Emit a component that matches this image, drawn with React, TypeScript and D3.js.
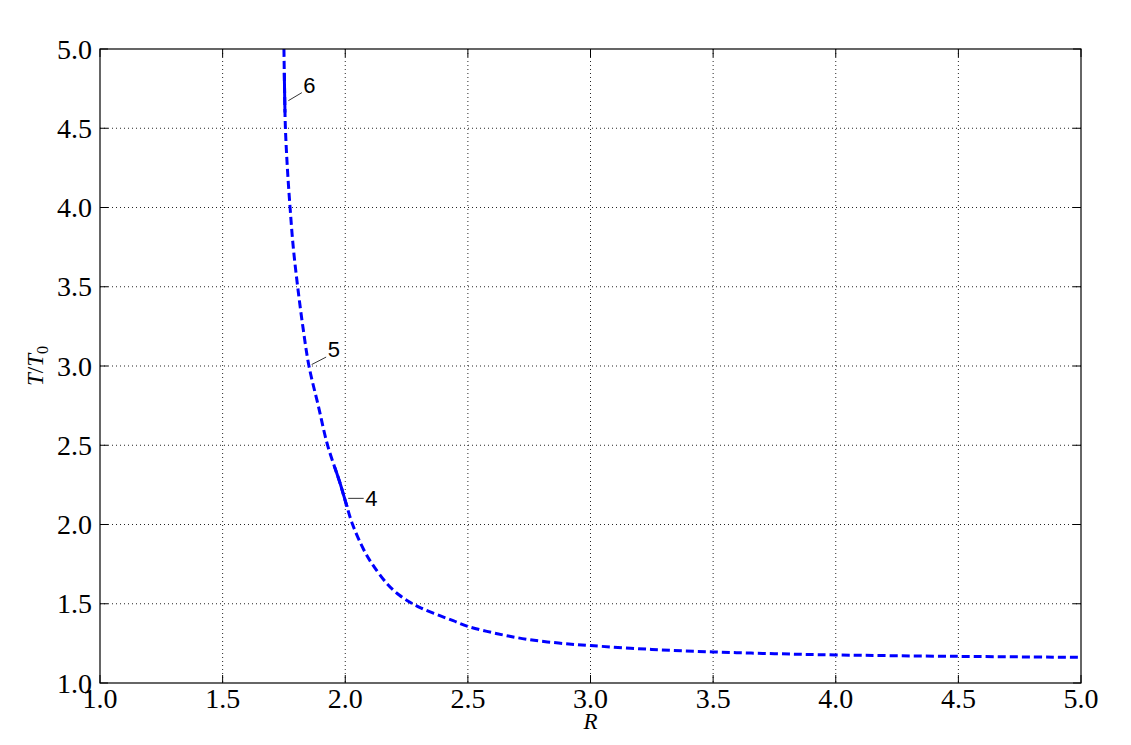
import React from "react";
import * as d3 from "d3";

// Curve R (x) vs T/T0 (y)
const curveR = [1.750, 1.7525, 1.756, 1.764, 1.775, 1.788, 1.806, 1.827, 1.852, 1.890, 1.928, 1.979, 2.003, 2.030, 2.076, 2.108, 2.169, 2.220, 2.264, 2.310, 2.373, 2.440, 2.500, 2.620, 2.740, 2.870, 3.000, 3.250, 3.500, 3.750, 4.000, 4.500, 5.000];
const curveT = [5.000, 4.750, 4.500, 4.250, 4.000, 3.750, 3.500, 3.250, 3.000, 2.750, 2.500, 2.260, 2.134, 2.000, 1.839, 1.755, 1.629, 1.555, 1.510, 1.472, 1.432, 1.393, 1.357, 1.311, 1.276, 1.252, 1.236, 1.212, 1.196, 1.185, 1.177, 1.168, 1.162];

// y-ranges where the curve is drawn solid
const solidLow = [4.60, 2.112];
const solidHigh = [4.85, 2.365];

// Annotations: text, anchor point on the curve (data)
const labelText = ["6", "5", "4"];
const labelR = [1.768, 1.863, 2.012];
const labelT = [4.674, 3.009, 2.165];
const labelDx = [13.5, 14.5, 15.5];
const labelDy = [-8, -7.5, 0];

const xTicks = [1.0, 1.5, 2.0, 2.5, 3.0, 3.5, 4.0, 4.5, 5.0];
const yTicks = [1.0, 1.5, 2.0, 2.5, 3.0, 3.5, 4.0, 4.5, 5.0];

const W = 1131, H = 745;
const L = 100, R = 1081, T = 49, B = 683;

export default function App() {
  const x = d3.scaleLinear().domain([1, 5]).range([L, R]);
  const y = d3.scaleLinear().domain([1, 5]).range([B, T]);
  const pts: [number, number][] = curveR.map((r, i) => [r, curveT[i]]);
  const line = d3
    .line<[number, number]>()
    .x((d) => x(d[0]))
    .y((d) => y(d[1]))
    .curve(d3.curveCatmullRom.alpha(0.5));
  const path = line(pts) || "";
  const serif = "'Liberation Serif', 'DejaVu Serif', serif";
  const tickLen = 8;
  return (
    <svg width={W} height={H} style={{ position: "absolute", left: 0, top: 0, background: "#fff" }}>
      <defs>
        <clipPath id="plotclip">
          <rect x={L} y={T} width={R - L} height={B - T} />
        </clipPath>
        {solidLow.map((lo, i) => (
          <clipPath id={`solid${i}`} key={i}>
            <rect x={L} y={y(solidHigh[i])} width={R - L} height={y(lo) - y(solidHigh[i])} />
          </clipPath>
        ))}
      </defs>
      <rect x={0} y={0} width={W} height={H} fill="#fff" />
      {/* grid */}
      <g stroke="#000" strokeWidth={1} strokeDasharray="1,3" opacity={0.85}>
        {xTicks.slice(1, -1).map((t) => (
          <line key={"gx" + t} x1={x(t)} x2={x(t)} y1={T} y2={B} />
        ))}
        {yTicks.slice(1, -1).map((t) => (
          <line key={"gy" + t} x1={L} x2={R} y1={y(t)} y2={y(t)} />
        ))}
      </g>
      {/* curve */}
      <g clipPath="url(#plotclip)">
        <path d={path} fill="none" stroke="#0000ff" strokeWidth={3} strokeDasharray="8,4" />
        {solidLow.map((_, i) => (
          <path key={i} d={path} fill="none" stroke="#0000ff" strokeWidth={3} clipPath={`url(#solid${i})`} />
        ))}
      </g>
      {/* annotations */}
      {labelText.map((t, i) => {
        const ax = x(labelR[i]);
        const ay = y(labelT[i]);
        const ex = ax + labelDx[i];
        const ey = ay + labelDy[i];
        return (
          <g key={t}>
            <line x1={ax} y1={ay} x2={ex} y2={ey} stroke="#000" strokeWidth={0.8} />
            <text
              x={ex + 1.5}
              y={labelDy[i] === 0 ? ey + 8 : ey + 0}
              fontFamily="'Liberation Sans', Arial, sans-serif"
              fontSize={22}
              fill="#000"
            >
              {t}
            </text>
          </g>
        );
      })}
      {/* ticks */}
      <g stroke="#000" strokeWidth={1}>
        {xTicks.map((t) => (
          <g key={"tx" + t}>
            <line x1={x(t)} x2={x(t)} y1={B} y2={B - tickLen} />
            <line x1={x(t)} x2={x(t)} y1={T} y2={T + tickLen} />
          </g>
        ))}
        {yTicks.map((t) => (
          <g key={"ty" + t}>
            <line x1={L} x2={L + tickLen} y1={y(t)} y2={y(t)} />
            <line x1={R} x2={R - tickLen} y1={y(t)} y2={y(t)} />
          </g>
        ))}
      </g>
      <rect x={L} y={T} width={R - L} height={B - T} fill="none" stroke="#000" strokeWidth={1.2} />
      {/* tick labels */}
      <g fontFamily={serif} fontSize={28} fill="#000">
        {xTicks.map((t) => (
          <text key={"lx" + t} x={x(t)} y={B + 25} textAnchor="middle">
            {t.toFixed(1)}
          </text>
        ))}
        {yTicks.map((t) => (
          <text key={"ly" + t} x={L - 8} y={y(t) + 9.5} textAnchor="end">
            {t.toFixed(1)}
          </text>
        ))}
      </g>
      {/* axis labels */}
      <text x={(L + R) / 2} y={729} textAnchor="middle" fontFamily={serif} fontStyle="italic" fontSize={23}>
        R
      </text>
      <g transform={`translate(43, ${(T + B) / 2}) rotate(-90)`}>
        <text textAnchor="middle" fontFamily={serif} fontSize={23}>
          <tspan fontStyle="italic">T</tspan>
          <tspan>/</tspan>
          <tspan fontStyle="italic">T</tspan>
          <tspan fontSize={16} dy={5}>0</tspan>
        </text>
      </g>
    </svg>
  );
}
